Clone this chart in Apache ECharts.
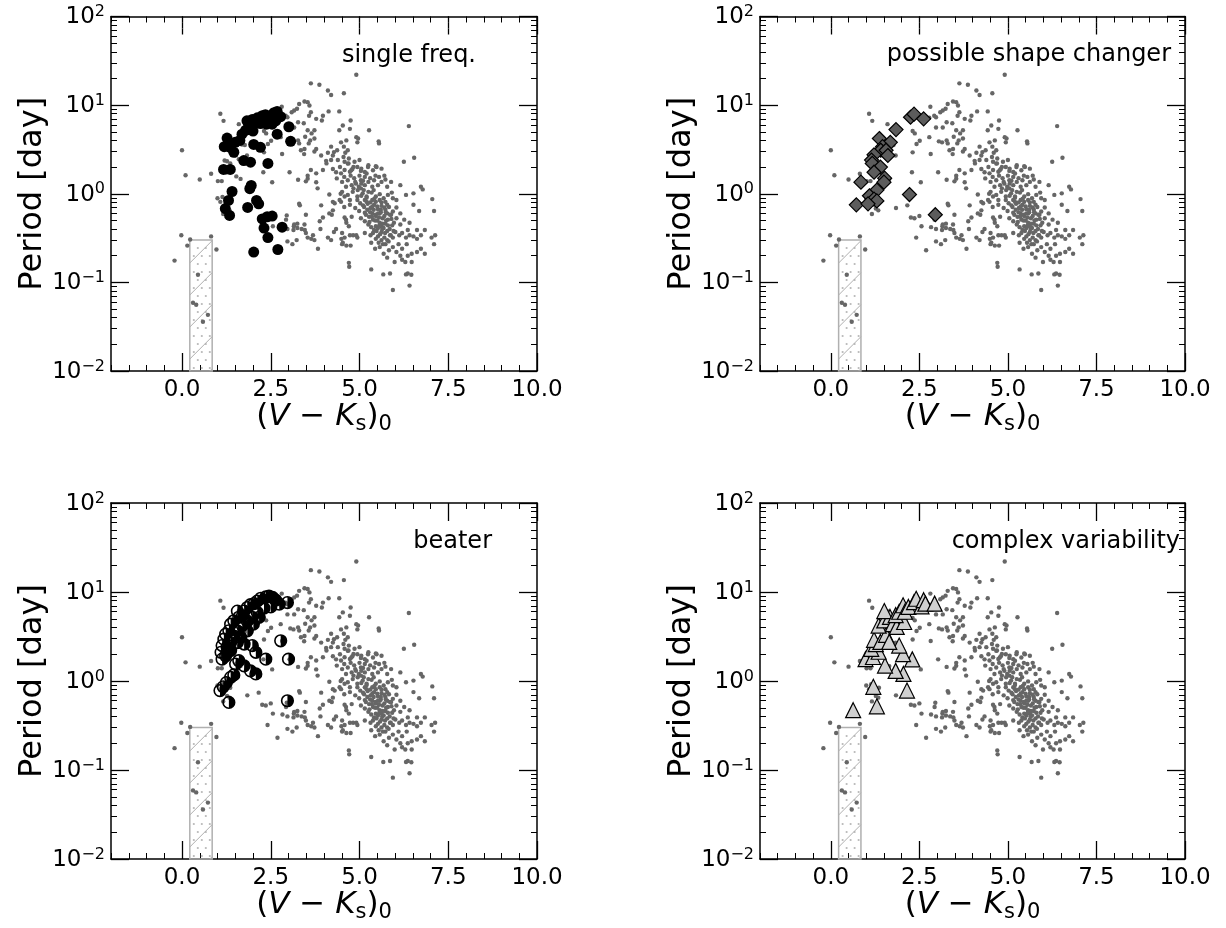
<!DOCTYPE html>
<html><head><meta charset="utf-8">
<script src="https://cdn.jsdelivr.net/npm/echarts@6/dist/echarts.min.js"></script>
<style>html,body{margin:0;padding:0;background:#fff}#c{width:1226px;height:928px}</style>
</head><body><div id="c"></div>
<script>
// ---------------- data ----------------
const xMajorTicks = [0, 2.5, 5, 7.5, 10];
const yMajorTicks = [0.01, 0.1, 1, 10, 100];
const yMinorTicks = [0.02,0.03,0.04,0.05,0.06,0.07,0.08,0.09,0.2,0.3,0.4,0.5,0.6,0.7,0.8,0.9,2,3,4,5,6,7,8,9,20,30,40,50,60,70,80,90];
const panelTitles = ['single freq.', 'possible shape changer', 'beater', 'complex variability'];
const hatchBox = [0.22, 0.01, 0.85, 0.3]; // x0, P0, x1, P1

const bgPts = [
[-0.21,0.176],[0.0,3.1],[0.1,1.62],[0.5,1.45],[0.82,1.68],[-0.02,0.34],[0.23,0.305],[0.15,0.26],[0.82,0.33],[0.97,0.235],[0.45,0.122],[0.31,0.059],[0.40,0.056],[0.59,0.036],[0.73,0.043],
[1.08,8.0],[1.17,6.65],[1.01,1.39],[1.12,1.39],[1.0,0.89],[1.08,0.81],[1.14,0.92],[1.16,0.59],[1.6,6.1],[1.69,3.6],[1.77,3.55],[1.5,2.7],[1.6,2.45],[1.83,2.7],[1.2,2.37],[1.27,2.33],[1.36,2.2],[1.17,1.82],[1.25,1.74],[1.53,1.57],[1.65,1.47],[2.29,1.75],[2.31,2.93],[2.42,3.64],[2.51,3.96],[2.37,4.8],[2.78,7.2],[2.92,7.6],[2.82,2.81],[3.03,1.75],[2.54,1.35],[1.36,0.84],[1.27,0.68],[1.34,0.65],[2.16,0.74],[1.84,0.69],[2.36,0.53],[2.41,0.32],[2.56,0.43],[2.93,0.51],[2.31,5.1],[2.26,0.54],[2.5,0.56],[2.83,0.42],[2.97,0.40],[3.11,0.27],[2.69,0.23],
[3.27,1.44],[3.44,2.8],[3.32,0.74],[2.95,0.57],[3.15,0.43],[3.25,0.41],[2.97,0.29],[3.37,0.40],[3.14,0.39],[3.23,0.30],[3.25,0.46],[3.30,0.77],[3.46,0.39],[3.64,0.31],[3.69,0.34],[3.83,0.24],[3.88,0.49],[4.15,0.6],[4.28,0.37],[4.49,0.31],[4.73,0.34],[4.51,0.27],[4.71,0.15],[3.16,0.45],[3.49,0.58],[3.45,0.45],[3.49,0.36],[3.54,0.32],[3.73,0.30],[3.97,0.54],[3.9,0.40],[4.11,0.32],[4.2,0.30],[4.34,0.40],[3.92,0.74],[4.25,0.65],[4.3,0.78],[4.22,0.58],[4.44,0.85],[4.58,0.54],[4.63,0.47],[4.7,0.43],[4.82,0.34],[4.91,0.34],[4.53,0.28],[4.63,0.26],[4.75,0.26],[4.58,0.32],[3.82,1.15],[3.78,1.35],[4.15,0.98],[4.25,0.81],[4.48,0.81],[4.58,0.93],[4.47,1.0],[3.49,1.38],[3.54,1.48],
[5.33,0.28],[5.33,0.14],[5.67,0.123],[5.86,0.126],[4.7,0.166],[5.94,0.082],[6.31,0.123],[6.41,0.092],[6.36,0.126],
[3.63,17.6],[3.87,17],[4.11,14.6],[4.2,13],[4.56,13.6],[4.91,22],[3.45,11],[3.3,10.3],[3.54,10.8],[3.59,9.9],[3.16,8.7],[3.24,9.1],[3.09,8.3],[2.97,7.3],[2.81,9.6],[3.63,8.3],[3.78,7.0],[3.97,7.6],[3.94,6.7],[4.13,8.5],[4.43,8.5],[3.27,6.4],[3.43,6.25],[3.16,5.6],[2.97,5.6],[3.54,5.2],[3.65,4.8],[3.73,5.2],[3.61,4.0],[3.73,4.2],[3.47,4.4],[2.78,4.35],[3.05,3.9],[3.14,3.8],[3.27,4.0],[3.35,3.1],[3.45,3.2],[3.73,3.0],[3.78,3.2],[3.92,2.7],[4.06,2.35],[4.2,3.4],[4.28,2.95],[4.37,3.1],[4.48,3.8],[4.63,4.0],[4.43,5.2],[4.75,6.7],[4.53,5.9],[4.73,5.4],[4.96,4.2],[4.94,3.8],[5.27,5.2],[5.54,3.9],[5.55,3.7],[4.11,2.9],[4.25,2.7],[4.56,3.4],[4.67,3.1],[4.07,2.2],[4.2,2.4],[4.39,2.4],[4.58,2.3],[4.45,2.0],[4.69,2.2],[4.86,2.3],[5.0,2.4],[4.94,2.0],[3.63,1.85],[3.78,1.7],[3.54,1.6],[3.97,1.85],[4.25,1.9],[4.34,1.75],[4.48,1.7],[4.58,1.85],[4.77,1.84],[5.05,1.92],[5.15,1.76],[5.24,2.0],[5.38,1.84],[5.48,2.0],[5.62,1.92],[3.58,7.6],[3.3,3.7],[3.57,3.7],[4.91,4.35],
[6.25,2.3],[6.54,2.55],[6.39,5.8],[6.78,1.12],[7.05,0.87],[7.1,0.64],[6.68,0.64],[6.84,0.39],[7.13,0.34],[7.1,0.27],[6.73,0.24],[6.84,0.21],[6.62,0.22],[6.52,0.33],[6.36,0.2],[6.29,0.17],[6.2,0.18],[6.46,0.122],
[4.67,2.19],[4.83,2.01],[5.25,2.10],[5.46,2.04],[4.73,1.77],[5.04,1.81],[4.57,1.55],[5.20,1.69],
[4.36,1.49],[4.51,1.36],[4.67,1.42],[4.78,1.25],[4.88,1.36],[5.04,1.42],[5.15,1.25],[5.25,1.36],[5.41,1.42],[5.52,1.25],[5.62,1.36],[5.73,1.45],[5.78,1.20],[5.36,1.20],[5.04,1.15],[4.83,1.15],[4.62,1.20],[6.15,1.25],[6.73,1.20],[5.89,1.36],
[4.51,1.05],[4.67,0.97],[4.81,1.05],[4.94,0.93],[5.09,1.01],[5.20,0.93],[5.34,1.03],[5.46,0.93],[5.57,0.99],[5.68,0.89],[5.80,0.97],[5.91,1.03],[5.36,0.85],[5.15,0.85],[4.94,0.85],[6.04,0.85],[6.31,0.97],[6.52,1.01],[4.73,0.85],[5.57,0.85],[5.73,0.81],[5.94,0.89],
[4.57,0.71],[4.73,0.75],[4.88,0.69],[5.02,0.78],[5.13,0.71],[5.23,0.77],[5.31,0.69],[5.41,0.75],[5.52,0.67],[5.62,0.73],[5.73,0.66],[5.83,0.71],[5.94,0.63],[6.04,0.70],[5.78,0.60],[5.57,0.60],[5.36,0.60],[5.15,0.61],[4.99,0.64],[6.15,0.60],[6.52,0.75],[5.20,0.81],[5.46,0.81],
[4.62,0.51],[4.78,0.55],[5.04,0.53],[5.15,0.49],[5.27,0.55],[5.38,0.51],[5.46,0.56],[5.57,0.47],[5.65,0.53],[5.73,0.46],[5.80,0.51],[5.89,0.58],[5.97,0.47],[6.04,0.53],[6.15,0.45],[6.26,0.51],[5.46,0.43],[5.62,0.43],[5.25,0.45],[6.36,0.39],[6.62,0.39],[6.41,0.47],
[5.15,0.36],[5.31,0.34],[5.41,0.39],[5.52,0.33],[5.62,0.37],[5.70,0.32],[5.78,0.38],[5.86,0.34],[5.94,0.32],[6.01,0.37],[6.12,0.34],[6.20,0.36],[6.31,0.32],[6.41,0.34],[6.62,0.31],[6.73,0.34],[7.03,0.32],[4.94,0.32],[4.51,0.36],[5.52,0.41],[5.78,0.30],[5.62,0.30],
[5.57,0.25],[5.73,0.27],[5.83,0.23],[5.94,0.25],[6.04,0.22],[6.20,0.24],[6.33,0.27],[6.47,0.21],[5.44,0.24],[5.68,0.21],[6.10,0.27],
[5.78,0.19],[5.99,0.17],[6.15,0.20],[6.47,0.17],
[5.3,0.62],[5.35,0.55],[5.4,0.66],[5.45,0.58],[5.5,0.5],[5.55,0.54],[5.6,0.62],[5.65,0.46],[5.7,0.56],[5.75,0.5],[5.28,0.48],[5.33,0.42],[5.38,0.36],[5.48,0.38],[5.58,0.35],[5.68,0.41],[5.72,0.36],[5.8,0.44],[5.85,0.4],[5.9,0.52],[5.18,0.58],[5.22,0.66],[5.1,0.74],[5.2,0.9],[5.3,0.8],[5.42,0.88],[5.5,0.72],[5.62,0.8],[5.7,0.7],[5.78,0.75],[5.25,1.05],[5.12,1.1],[4.98,1.2],[5.05,0.95],[5.4,1.1],[5.6,0.66],[5.52,0.6],[5.44,0.5],[5.36,0.72],[5.64,0.4],[5.56,0.44],[5.74,0.62],[5.86,0.58],[5.92,0.44],[5.96,0.38],[5.46,0.31],[5.54,0.28],[5.66,0.27],[5.82,0.29],[5.88,0.34],
[4.55,2.6],[4.6,2.9],[4.7,2.5],[4.75,1.6],[4.8,1.9],[4.85,1.5],[4.9,1.3],[5.0,1.6],[5.1,1.4],[4.95,1.1],[5.05,1.3],[5.15,1.55],[5.3,1.5],[5.45,1.6],[5.55,1.55],[5.7,1.6]
];

const singleFreqPts = [
[1.27,4.25],[1.19,3.4],[1.36,3.34],[1.46,2.94],[1.50,3.8],[1.63,4.0],[1.69,4.7],[1.79,5.2],[1.88,6.1],[1.83,6.65],[1.98,6.9],[2.12,7.2],[2.26,7.6],[2.35,7.8],[2.45,7.4],[2.59,8.2],[2.68,8.5],[2.78,7.4],[2.64,6.65],[2.54,6.1],[2.38,6.1],[2.21,6.2],[2.04,6.1],[1.93,5.4],[2.0,5.1],[3.01,5.7],[3.06,3.9],[2.68,4.7],[2.02,3.6],[2.21,3.34],[1.74,2.37],[1.93,2.27],[2.42,2.2],[1.17,1.88],[1.36,1.88],[1.95,1.24],[1.91,1.14],[1.41,1.06],[1.31,0.84],[1.22,0.68],[1.34,0.57],[2.10,0.84],[2.16,0.77],[1.85,0.70],[2.26,0.52],[2.4,0.55],[2.54,0.56],[2.31,0.41],[2.42,0.32],[2.82,0.42],[2.02,0.22],[2.70,0.235]
];
const shapeChangerPts = [
[2.25,7.3],[2.35,7.9],[2.62,7.0],[1.84,5.3],[1.37,4.2],[1.68,3.8],[1.46,3.4],[1.41,3.1],[1.56,3.1],[1.61,2.7],[1.22,2.75],[1.15,2.4],[1.17,2.2],[1.40,2.0],[1.22,1.75],[1.52,1.5],[1.50,1.35],[0.85,1.35],[1.30,1.1],[2.22,0.98],[1.09,0.95],[1.22,0.87],[1.30,0.83],[0.72,0.75],[1.05,0.77],[2.95,0.58]
];
const beaterPts = [
[1.07,0.78],[1.16,0.86],[1.25,0.96],[1.37,1.1],[1.46,1.17],[1.32,0.575],[1.13,1.76],[1.10,2.1],[1.13,2.5],[1.18,2.95],[1.23,3.36],[1.32,3.66],[1.37,4.35],[1.46,4.75],[1.56,6.1],[1.60,5.2],[1.70,5.4],[1.75,6.1],[1.84,6.7],[1.93,7.2],[2.03,7.4],[2.12,7.9],[2.22,8.5],[2.36,8.8],[2.45,9.0],[2.55,8.7],[2.64,8.1],[2.74,7.3],[2.97,7.6],[2.50,6.8],[2.31,6.6],[2.12,5.9],[1.98,5.2],[1.84,4.7],[1.70,4.2],[1.56,3.66],[1.46,3.2],[1.37,2.7],[1.27,2.4],[1.23,1.92],[1.37,2.2],[1.56,2.7],[1.75,2.6],[1.98,2.5],[2.08,2.1],[2.36,1.76],[1.60,1.69],[1.75,1.48],[1.93,1.30],[2.08,1.2],[1.51,1.55],[2.78,2.83],[3.0,1.76],[2.97,0.6],[2.17,5.2],[2.01,4.35],[1.84,3.66],[1.65,3.1]
];
const complexPts = [
[0.63,0.47],[1.30,0.52],[1.20,0.86],[2.15,0.78],[2.05,1.2],[1.83,1.3],[1.53,1.49],[2.30,1.75],[0.98,1.76],[1.19,1.86],[1.35,2.13],[1.14,2.3],[1.27,2.6],[2.04,2.0],[1.93,2.5],[1.22,2.9],[1.40,2.75],[1.56,3.3],[1.65,2.75],[1.35,4.2],[1.51,4.8],[1.67,5.25],[1.75,4.35],[1.86,4.05],[2.07,4.6],[1.51,6.1],[1.83,5.5],[1.93,6.0],[2.04,7.1],[2.09,6.0],[2.19,6.8],[2.35,7.7],[2.41,8.4],[2.56,6.9],[2.62,8.1],[2.67,7.4],[2.93,7.4]
];

// ---------------- layout / style ----------------
const FONT = 'DejaVu Sans';
const boxes = [
  {left:111, top:16, width:426, height:355},
  {left:760, top:16, width:425, height:355},
  {left:111, top:503, width:426, height:356},
  {left:760, top:503, width:425, height:356}
];
const titlePos = [[476,56],[1171,55],[492,542],[1180,542]];
const SEG = 6;                 // one tick segment; major ticks = 3 stacked segments
const MAJOR_OFFSETS = [0, -6, -12];

const black = '#000';
const grid = [], xAxis = [], yAxis = [], series = [], graphic = [];

const xName = '{n|(}{i|V}{n| − }{i|K}{s|s}{n|)}{t|0}';
function xNameRich(){ return {
  n:{fontFamily:FONT,fontSize:31,color:black,lineHeight:34,verticalAlign:'top'},
  i:{fontFamily:FONT,fontSize:31,fontStyle:'italic',color:black,lineHeight:34,verticalAlign:'top'},
  s:{fontFamily:FONT,fontSize:21,color:black,lineHeight:22,verticalAlign:'bottom',padding:[17,0,0,0]},
  t:{fontFamily:FONT,fontSize:21,color:black,lineHeight:22,verticalAlign:'bottom',padding:[24,0,0,0]}
};}
function yFmt(v){
  const e = Math.round(Math.log10(v));
  return '{b|10}{e|' + (e < 0 ? '\u2212' + (-e) : e) + '}';
}
function yRich(){ return {
  b:{fontFamily:FONT,fontSize:23,color:black,lineHeight:25,verticalAlign:'bottom',padding:[6,0,0,0]},
  e:{fontFamily:FONT,fontSize:16,color:black,lineHeight:17,verticalAlign:'top'}
};}
const noLine = () => ({show:false, onZero:false});
const frameLine = () => ({show:true, onZero:false, lineStyle:{color:black, width:1.5}});
function tick(vals, w){
  const t = {show:true, inside:true, length:SEG, lineStyle:{color:black, width:w || 1}};
  if (vals) t.customValues = vals.slice();
  return t;
}

boxes.forEach((b, g) => {
  grid.push(Object.assign({containLabel:false}, b));
  const xi = xAxis.length, yi = yAxis.length;
  const xc = () => ({gridIndex:g, type:'value', min:-2, max:10, splitLine:{show:false}, axisPointer:{show:false}, axisLabel:{show:false}});
  // frame + labels
  xAxis.push(Object.assign(xc(), {position:'bottom', axisLine:frameLine(), axisTick:{show:false},
    axisLabel:{show:true, customValues:xMajorTicks.slice(), formatter:v => v.toFixed(1), fontFamily:FONT, fontSize:23, color:black, margin:8},
    name:xName, nameLocation:'middle', nameGap:30, nameMoveOverlap:false, nameTextStyle:{rich:xNameRich()}}));
  xAxis.push(Object.assign(xc(), {position:'top', axisLine:frameLine(), axisTick:{show:false}}));
  // minor ticks every 0.5
  xAxis.push(Object.assign(xc(), {position:'bottom', interval:0.5, axisLine:noLine(), axisTick:tick()}));
  xAxis.push(Object.assign(xc(), {position:'top', interval:0.5, axisLine:noLine(), axisTick:tick()}));
  // long major ticks, built from stacked inward segments
  MAJOR_OFFSETS.forEach(off => {
    xAxis.push(Object.assign(xc(), {position:'bottom', offset:off, axisLine:noLine(), axisTick:tick(xMajorTicks, 1.3)}));
    xAxis.push(Object.assign(xc(), {position:'top', offset:off, axisLine:noLine(), axisTick:tick(xMajorTicks, 1.3)}));
  });

  const yc = () => ({gridIndex:g, type:'log', logBase:10, min:0.01, max:100, splitLine:{show:false}, axisPointer:{show:false}, axisLabel:{show:false}});
  yAxis.push(Object.assign(yc(), {position:'left', axisLine:frameLine(), axisTick:{show:false},
    axisLabel:{show:true, formatter:yFmt, rich:yRich(), margin:6},
    name:'Period [day]', nameLocation:'middle', nameGap:62, nameMoveOverlap:false, nameTextStyle:{fontFamily:FONT, fontSize:32, color:black}}));
  yAxis.push(Object.assign(yc(), {position:'right', axisLine:frameLine(), axisTick:{show:false}}));
  yAxis.push(Object.assign(yc(), {position:'left', axisLine:noLine(), axisTick:tick(yMinorTicks)}));
  yAxis.push(Object.assign(yc(), {position:'right', axisLine:noLine(), axisTick:tick(yMinorTicks)}));
  MAJOR_OFFSETS.forEach(off => {
    yAxis.push(Object.assign(yc(), {position:'left', offset:off, axisLine:noLine(), axisTick:tick(yMajorTicks, 1.3)}));
    yAxis.push(Object.assign(yc(), {position:'right', offset:off, axisLine:noLine(), axisTick:tick(yMajorTicks, 1.3)}));
  });

  // hatched region
  series.push({
    type:'custom', xAxisIndex:xi, yAxisIndex:yi, coordinateSystem:'cartesian2d', z:1, silent:true,
    data:[hatchBox], encode:{x:[0,2], y:[1,3]},
    renderItem:function(params, api){
      const a = api.coord([api.value(0), api.value(1)]);
      const c = api.coord([api.value(2), api.value(3)]);
      const L = Math.min(a[0], c[0]), R = Math.max(a[0], c[0]);
      const T = Math.min(a[1], c[1]), B = Math.max(a[1], c[1]);
      const ch = [];
      let row = 0;
      for (let y = B - 3; y > T + 2; y -= 8, row++) {
        const off = (row % 2) ? 4 : 0;
        for (let x = L + 4 + off; x < R - 2; x += 8) {
          ch.push({type:'circle', shape:{cx:x, cy:y, r:1.1}, style:{fill:'#b8b8b8'}});
        }
      }
      const step = 32;
      for (let k = L + B - 12 + step * 2; k > L + T - step; k -= step) {
        const x0 = Math.max(L, k - B), x1 = Math.min(R, k - T);
        if (x1 > x0) ch.push({type:'line', shape:{x1:x0, y1:k - x0, x2:x1, y2:k - x1}, style:{stroke:'#b0b0b0', lineWidth:1}});
      }
      ch.push({type:'rect', shape:{x:L, y:T, width:R - L, height:B - T}, style:{fill:'none', stroke:'#b0b0b0', lineWidth:1.5}});
      return {type:'group', children:ch};
    }
  });

  // background sample
  series.push({type:'scatter', xAxisIndex:xi, yAxisIndex:yi, data:bgPts, symbol:'circle', symbolSize:4.4,
    itemStyle:{color:'#666666', opacity:1}, z:2, silent:true});

  if (g === 0) {
    series.push({type:'scatter', xAxisIndex:xi, yAxisIndex:yi, data:singleFreqPts, symbol:'circle', symbolSize:11,
      itemStyle:{color:black, opacity:1}, z:3, silent:true});
  } else if (g === 1) {
    series.push({type:'scatter', xAxisIndex:xi, yAxisIndex:yi, data:shapeChangerPts, symbol:'diamond', symbolSize:14,
      itemStyle:{color:'#5c5c5c', borderColor:black, borderWidth:1.2, opacity:1}, z:3, silent:true});
  } else if (g === 2) {
    series.push({type:'custom', xAxisIndex:xi, yAxisIndex:yi, coordinateSystem:'cartesian2d', z:3, silent:true,
      data:beaterPts, encode:{x:0, y:1},
      renderItem:function(params, api){
        const p = api.coord([api.value(0), api.value(1)]);
        const r = 5.8;
        return {type:'group', children:[
          {type:'sector', shape:{cx:p[0], cy:p[1], r0:0, r:r, startAngle:-Math.PI/2, endAngle:Math.PI/2, clockwise:true}, style:{fill:black}},
          {type:'circle', shape:{cx:p[0], cy:p[1], r:r}, style:{fill:'none', stroke:black, lineWidth:1.6}}
        ]};
      }});
  } else {
    series.push({type:'scatter', xAxisIndex:xi, yAxisIndex:yi, data:complexPts, symbol:'triangle', symbolSize:15,
      itemStyle:{color:'#d0d0d0', borderColor:black, borderWidth:1.2, opacity:1}, z:3, silent:true});
  }

  graphic.push({type:'text', x:titlePos[g][0], y:titlePos[g][1], z:10,
    style:{text:panelTitles[g], fill:black, fontFamily:FONT, fontSize:24, align:'right', verticalAlign:'middle'}});
});

const chart = echarts.init(document.getElementById('c'), null, {renderer:'canvas'});
chart.setOption({animation:false, backgroundColor:'#fff', grid, xAxis, yAxis, series, graphic});
</script>
</body></html>
